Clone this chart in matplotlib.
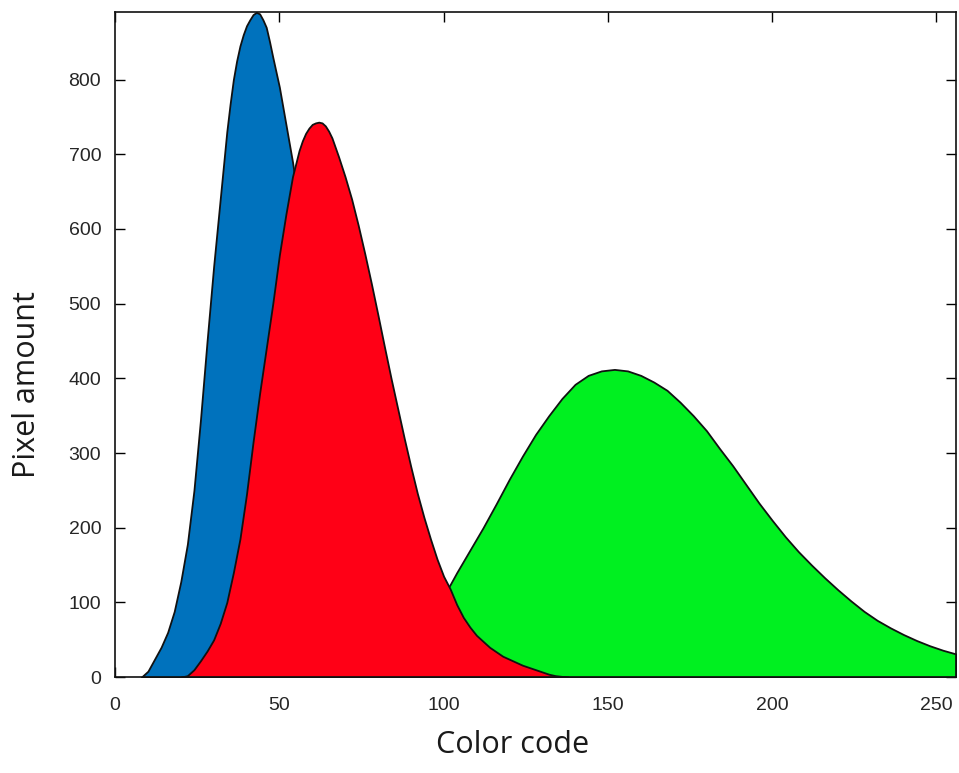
import matplotlib
matplotlib.use("Agg")
import matplotlib.pyplot as plt

# Histogram envelopes per colour channel (pixel counts per colour code)
blue_x = [8, 10, 12, 14, 16, 18, 20, 22, 24, 26, 28, 30, 32, 34, 35, 36, 37, 38, 39, 40,
          41, 42, 43, 44, 45, 46, 47, 48, 50, 52, 54, 56, 58, 60, 62, 64, 66, 68, 70, 72,
          74, 76, 78, 80, 82, 84, 86, 88, 90, 92, 94]
blue_y = [0, 8, 24, 40, 60, 88, 128, 178, 250, 345, 450, 550, 640, 730, 767, 800, 825, 845, 860, 872,
          880, 887, 890, 888, 880, 870, 851, 830, 790, 740, 690, 630, 565, 500, 435, 375, 315, 260, 210, 165,
          125, 92, 65, 45, 30, 19, 11, 6, 3, 1, 0]

red_x = [20, 22, 24, 26, 28, 30, 32, 34, 36, 38, 40, 42, 44, 46, 48, 50, 52, 54, 56, 57,
         58, 59, 60, 61, 62, 63, 64, 65, 66, 68, 70, 72, 74, 76, 78, 80, 82, 84, 86, 88,
         90, 92, 94, 96, 98, 100, 102, 104, 106, 108, 110, 112, 114, 116, 118, 120, 122,
         124, 126, 128, 130, 132, 134, 136, 138]
red_y = [0, 2, 10, 22, 35, 50, 72, 100, 140, 185, 245, 315, 380, 440, 500, 565, 620, 670, 705, 718,
         728, 735, 740, 742, 743, 742, 738, 731, 722, 697, 670, 640, 605, 567, 527, 485, 442, 400, 360, 320,
         282, 246, 214, 185, 158, 135, 118, 97, 80, 67, 56, 48, 40, 34, 28, 24, 20,
         16, 13, 10, 7, 4, 2, 1, 0]

green_x = [64, 68, 72, 76, 80, 84, 88, 92, 96, 100, 102, 104, 108, 112, 116, 120, 124, 128, 132,
           136, 140, 144, 146, 148, 150, 152, 154, 156, 158, 160, 164, 168, 172, 176, 180, 184,
           188, 192, 196, 200, 204, 208, 212, 216, 220, 224, 228, 232, 236, 240, 244, 248, 252, 256]
green_y = [0, 2, 4, 8, 14, 24, 38, 56, 80, 110, 124, 140, 170, 200, 232, 265, 296, 325, 350,
           373, 392, 404, 407, 410, 411, 412, 411, 410, 407, 404, 395, 384, 368, 350, 330, 306,
           283, 258, 233, 210, 188, 168, 150, 133, 117, 102, 88, 76, 66, 57, 49, 42, 36, 31]

x_ticks = [0, 50, 100, 150, 200, 250]
y_ticks = [0, 100, 200, 300, 400, 500, 600, 700, 800]

fig = plt.figure(figsize=(9.59, 7.73), dpi=100)
ax = fig.add_axes([0.120, 0.124, 0.877, 0.861])

edge = dict(edgecolor="#111111", linewidth=1.3, joinstyle="round")
ax.fill_between(blue_x, blue_y, 0, facecolor="#0072BD", zorder=2, **edge)
ax.fill_between(green_x, green_y, 0, facecolor="#00F020", zorder=3, **edge)
ax.fill_between(red_x, red_y, 0, facecolor="#FF0016", zorder=4, **edge)

ax.set_xlim(0, 256)
ax.set_ylim(0, 891)
ax.set_xticks(x_ticks)
ax.set_yticks(y_ticks)
ax.tick_params(direction="in", length=7, width=1.0, top=True, right=True,
               labelsize=14, labelcolor="#262626", pad=10)
ax.tick_params(axis="x", pad=14)
for lab in ax.get_xticklabels() + ax.get_yticklabels():
    lab.set_family("Liberation Sans")
for s in ax.spines.values():
    s.set_linewidth(1.2)
    s.set_color("#111111")
    s.set_zorder(6)

ax.set_xlabel("Color code", fontsize=22, family="Open Sans", color="#1a1a1a")
ax.set_ylabel("Pixel amount", fontsize=22, family="Open Sans", color="#1a1a1a")
ax.xaxis.set_label_coords(0.473, -0.102)
ax.yaxis.set_label_coords(-0.105, 0.439)
ax.xaxis.label.set_va("center")
ax.yaxis.label.set_va("center")

fig.savefig("out.png", dpi=100)
